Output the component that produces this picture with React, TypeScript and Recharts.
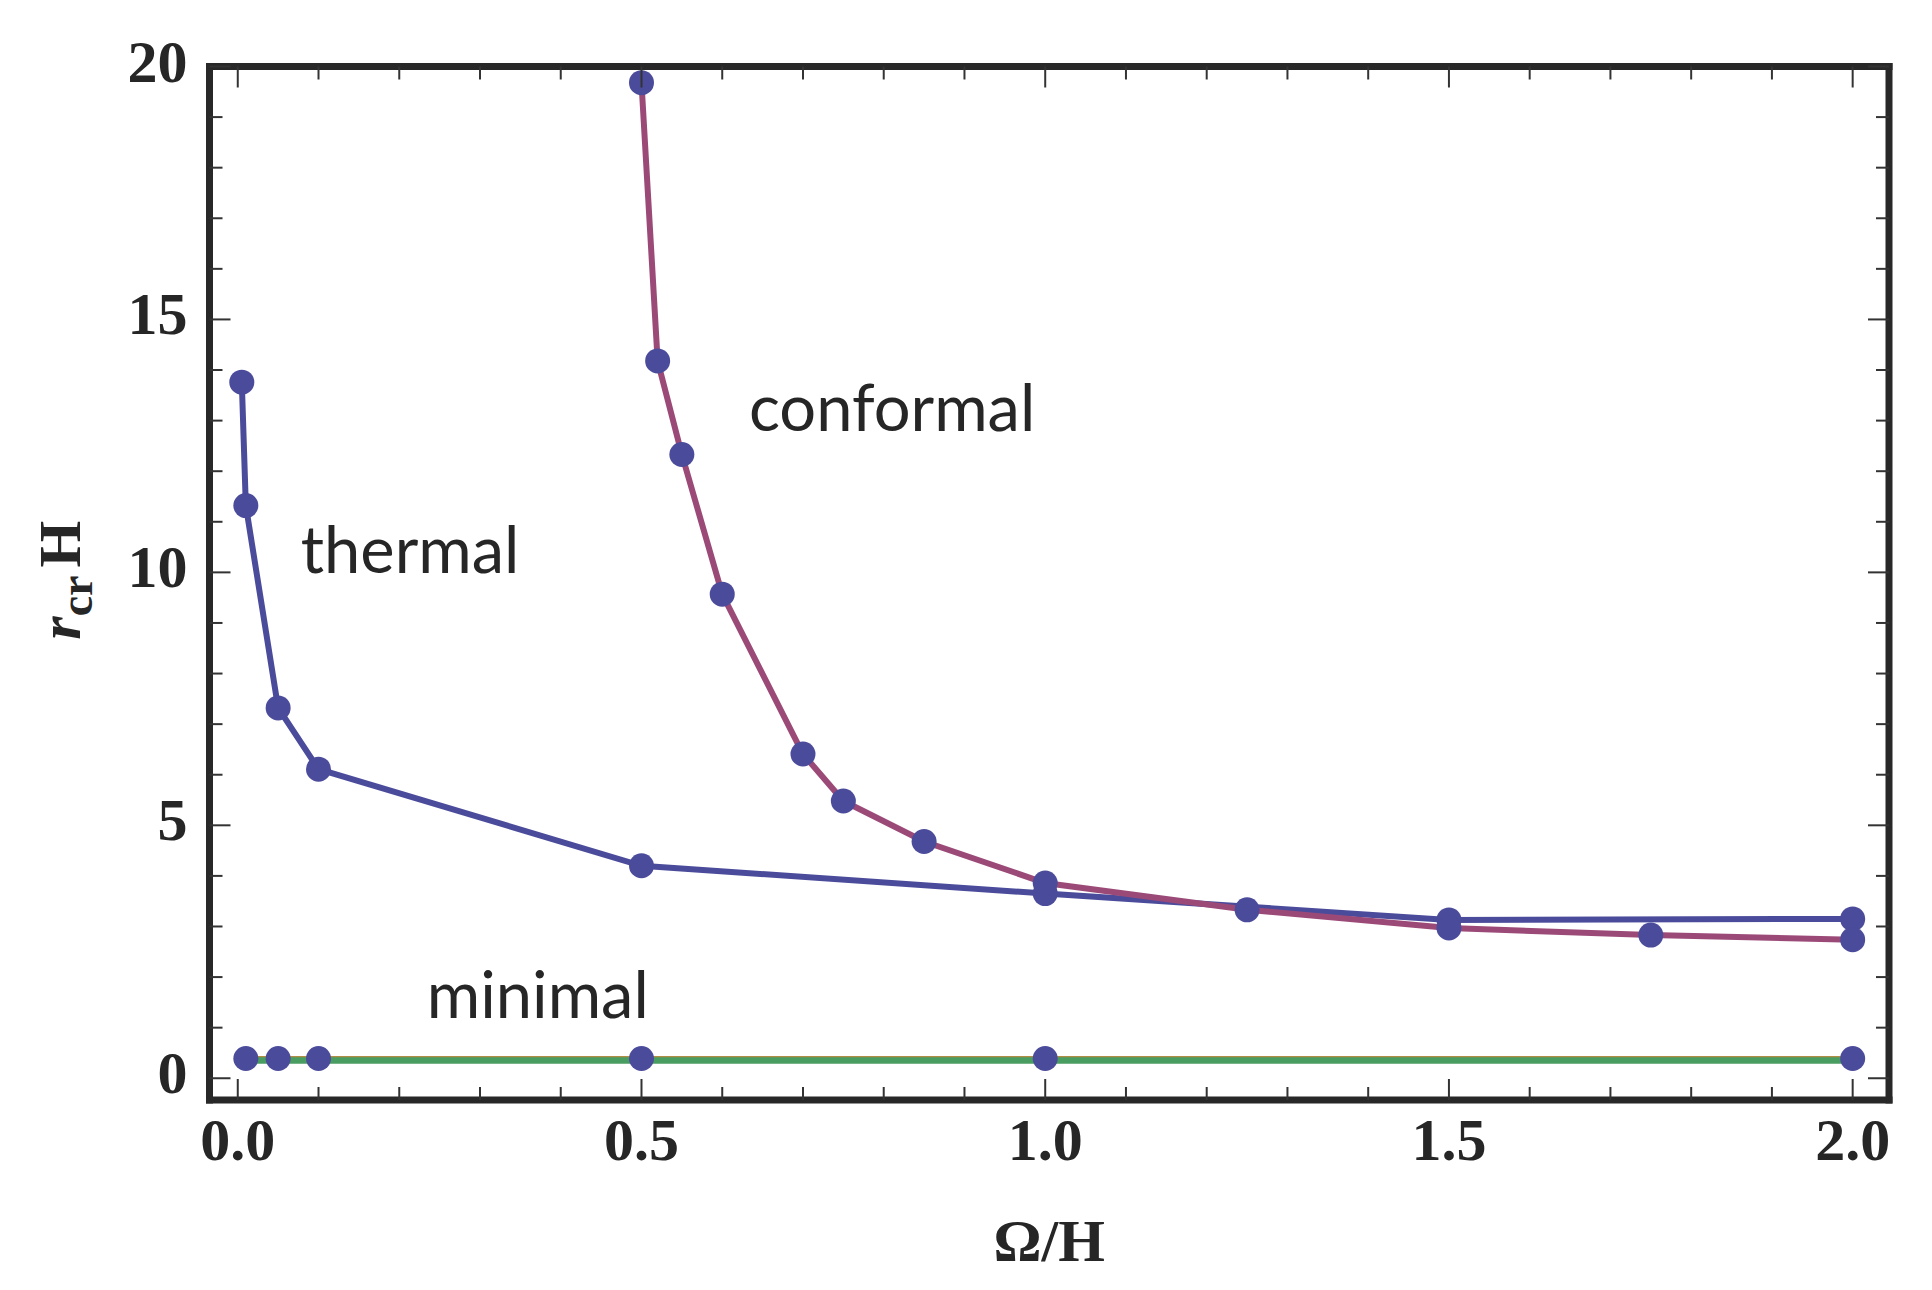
import React from 'react';
import {ComposedChart, Line, Scatter, XAxis, YAxis, ReferenceDot} from 'recharts';

// r_cr H against Omega/H for three couplings
const thermal = [
  {x: 0.005, y: 13.76},
  {x: 0.01, y: 11.32},
  {x: 0.05, y: 7.32},
  {x: 0.1, y: 6.11},
  {x: 0.5, y: 4.2},
  {x: 1.0, y: 3.65},
  {x: 1.5, y: 3.13},
  {x: 2.0, y: 3.15},
];

const conformal = [
  {x: 0.5, y: 19.68},
  {x: 0.52, y: 14.18},
  {x: 0.55, y: 12.33},
  {x: 0.6, y: 9.57},
  {x: 0.7, y: 6.41},
  {x: 0.75, y: 5.48},
  {x: 0.85, y: 4.68},
  {x: 1.0, y: 3.86},
  {x: 1.25, y: 3.33},
  {x: 1.5, y: 2.97},
  {x: 1.75, y: 2.83},
  {x: 2.0, y: 2.74},
];

const minimal = [
  {x: 0.01, y: 0.35},
  {x: 0.05, y: 0.35},
  {x: 0.1, y: 0.35},
  {x: 0.5, y: 0.35},
  {x: 1.0, y: 0.35},
  {x: 2.0, y: 0.35},
];

const minimalUpper = [
  {x: 0.01, y: 0.39},
  {x: 0.05, y: 0.39},
  {x: 0.1, y: 0.39},
  {x: 0.5, y: 0.39},
  {x: 1.0, y: 0.39},
  {x: 2.0, y: 0.39},
];

const xTicks = [0, 0.1, 0.2, 0.3, 0.4, 0.5, 0.6, 0.7, 0.8, 0.9, 1.0,
  1.1, 1.2, 1.3, 1.4, 1.5, 1.6, 1.7, 1.8, 1.9, 2.0];
const yTicks = [0, 1, 2, 3, 4, 5, 6, 7, 8, 9, 10,
  11, 12, 13, 14, 15, 16, 17, 18, 19, 20];

const labels = [
  {text: 'conformal', x: 0.633, y: 12.79},
  {text: 'thermal', x: 0.078, y: 9.99},
  {text: 'minimal', x: 0.234, y: 1.19},
];

const ink = '#262626';
const frame = {stroke: '#282828', strokeWidth: 7, strokeLinecap: 'square'};
const numStyle = {fontFamily: '"Liberation Serif", serif', fontWeight: 'bold', fontSize: 60, fill: ink};

const isMajorX = (v) => Math.abs(v * 2 - Math.round(v * 2)) < 1e-6;
const isMajorY = (v) => v % 5 === 0;

function BottomTick({x, y, payload}) {
  const major = isMajorX(payload.value);
  return (
    <g>
      <line x1={x} x2={x} y1={y} y2={y - (major ? 21 : 13)} stroke="#333" strokeWidth={2}/>
      {major && <text x={x} y={y + 60} textAnchor="middle" style={numStyle}>{payload.value.toFixed(1)}</text>}
    </g>
  );
}

function TopTick({x, y, payload}) {
  const major = isMajorX(payload.value);
  return <line x1={x} x2={x} y1={y} y2={y + (major ? 21 : 13)} stroke="#333" strokeWidth={2}/>;
}

function LeftTick({x, y, payload}) {
  const major = isMajorY(payload.value);
  return (
    <g>
      <line x1={x} x2={x + (major ? 21 : 13)} y1={y} y2={y} stroke="#333" strokeWidth={2}/>
      {major && <text x={x - 22} y={y + 15} textAnchor="end" style={numStyle}>{payload.value}</text>}
    </g>
  );
}

function RightTick({x, y, payload}) {
  const major = isMajorY(payload.value);
  return <line x1={x} x2={x - (major ? 21 : 13)} y1={y} y2={y} stroke="#333" strokeWidth={2}/>;
}

function XTitle({viewBox}) {
  const vb = viewBox || {x: 201.5, y: 1092, width: 1679.5, height: 182};
  return <text x={vb.x + vb.width / 2} y={vb.y + 161} textAnchor="middle" style={numStyle}>Ω/H</text>;
}

function YTitle({viewBox}) {
  const vb = viewBox || {x: 0, y: 58.5, width: 201.5, height: 1033.5};
  const cx = vb.x + 72;
  const cy = vb.y + vb.height / 2 - 3;
  return (
    <text x={cx} y={cy} transform={`rotate(-90 ${cx} ${cy})`} textAnchor="middle" style={numStyle}>
      <tspan fontStyle="italic">r</tspan>
      <tspan fontSize={46} dy={12}>cr</tspan>
      <tspan dy={-12} dx={8}>H</tspan>
    </text>
  );
}

const dotShape = (p) => <circle cx={p.cx} cy={p.cy} r={12.5} fill="#4b4b9b"/>;

export default function App() {
  return (
    <ComposedChart width={1916} height={1274} margin={{top: 0, right: 0, bottom: 0, left: 0}}>
      <XAxis dataKey="x" type="number" domain={[-0.035, 2.045]} allowDataOverflow ticks={xTicks} interval={0}
             height={182} tickSize={0} tickMargin={0} tickLine={false} axisLine={frame} tick={BottomTick}
             label={{content: (p) => <XTitle {...p}/>}}/>
      <XAxis xAxisId="top" orientation="top" dataKey="x" type="number" domain={[-0.035, 2.045]} allowDataOverflow
             ticks={xTicks} interval={0} height={58.5} tickSize={0} tickMargin={0} tickLine={false}
             axisLine={frame} tick={TopTick}/>
      <YAxis dataKey="y" type="number" domain={[-0.43, 20]} allowDataOverflow ticks={yTicks} interval={0}
             width={201.5} tickSize={0} tickMargin={0} tickLine={false} axisLine={frame} tick={LeftTick}
             label={{content: (p) => <YTitle {...p}/>}}/>
      <YAxis yAxisId="right" orientation="right" dataKey="y" type="number" domain={[-0.43, 20]} allowDataOverflow
             ticks={yTicks} interval={0} width={35} tickSize={0} tickMargin={0} tickLine={false}
             axisLine={frame} tick={RightTick}/>

      <Line data={minimalUpper} dataKey="y" xAxisId="top" yAxisId="right" type="linear" stroke="#b08d45"
            strokeWidth={5} dot={false} activeDot={false} isAnimationActive={false}/>
      <Line data={minimal} dataKey="y" type="linear" stroke="#4a9d60" strokeWidth={6.5}
            dot={false} activeDot={false} isAnimationActive={false}/>
      <Line data={thermal} dataKey="y" type="linear" stroke="#4b4b9b" strokeWidth={6}
            dot={false} activeDot={false} isAnimationActive={false}/>
      <Line data={conformal} dataKey="y" type="linear" stroke="#9b4a78" strokeWidth={6}
            dot={false} activeDot={false} isAnimationActive={false}/>

      <Scatter data={minimalUpper} shape={dotShape} isAnimationActive={false}/>
      <Scatter data={thermal} shape={dotShape} isAnimationActive={false}/>
      <Scatter data={conformal} shape={dotShape} isAnimationActive={false}/>

      {labels.map((l) => (
        <ReferenceDot key={l.text} x={l.x} y={l.y} ifOverflow="visible"
                      shape={(p) => (
                        <text x={p.cx} y={p.cy} style={{fontFamily: 'Lato, sans-serif', fontSize: 65, fill: ink}}>
                          {l.text}
                        </text>
                      )}/>
      ))}
    </ComposedChart>
  );
}
